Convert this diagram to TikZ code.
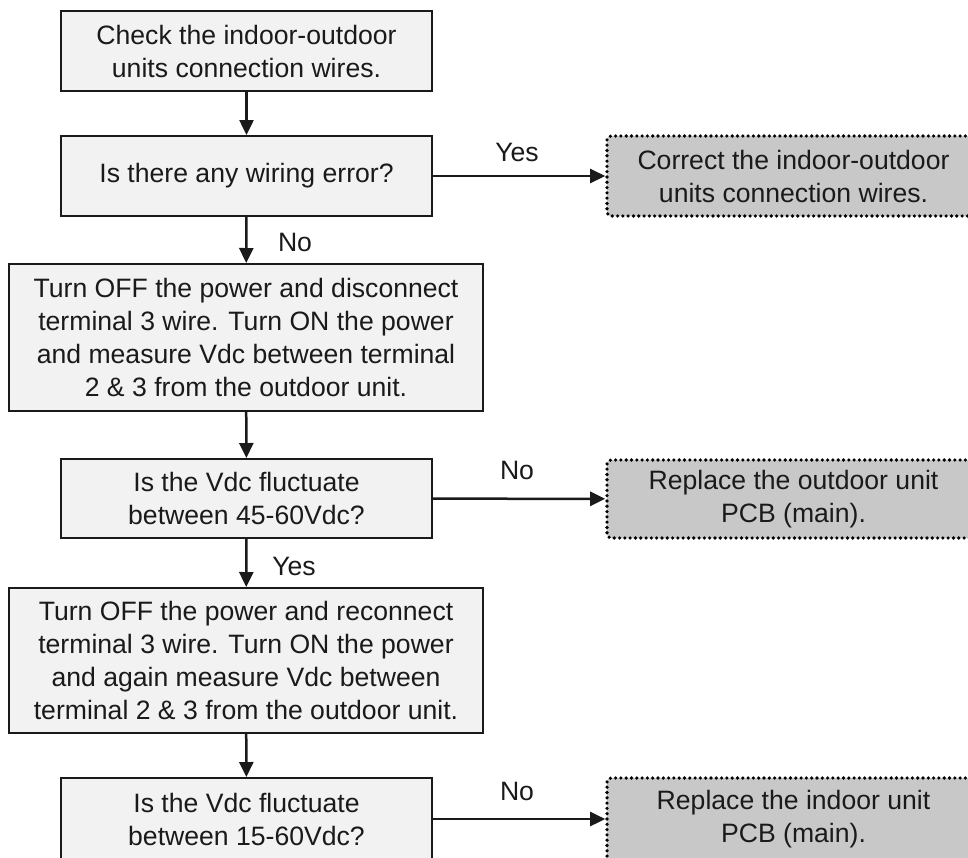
\documentclass[tikz,border=0pt]{standalone}
\usepackage{fontspec}
\setmainfont{Liberation Sans}
\usetikzlibrary{arrows.meta}
\definecolor{boxfill}{HTML}{F2F2F2}
\definecolor{grayfill}{HTML}{C8C8C8}
\definecolor{inkc}{HTML}{1A1A1A}
\begin{document}
\begin{tikzpicture}[x=1pt,y=-1pt,
  txt/.style={font=\fontsize{26.6pt}{33pt}\selectfont, align=center, inner sep=0pt, text=inkc},
  stepbox/.style={txt, draw=inkc, line width=2pt, fill=boxfill},
  endbox/.style={txt, draw=black, line width=3.6pt, fill=grayfill, rounded corners=4pt,
    dash pattern=on 0pt off 5.3pt, line cap=round},
  conn/.style={draw=inkc, line width=2.5pt, -{Triangle[width=14pt,length=15pt]}},
  lbl/.style={txt}]
\clip (0,0) rectangle (968,857);
\useasboundingbox (0,0) rectangle (968,857);
\fill[white] (0,0) rectangle (968,857);

\node[stepbox, minimum width=371pt, minimum height=80pt] (b1) at (246.5,51)
  {Check the indoor-outdoor\\units connection wires.};
\node[stepbox, minimum width=371pt, minimum height=80pt] (b2) at (246.5,176)
  {Is there any wiring error?};
\node[stepbox, minimum width=474pt, minimum height=147pt] (b3) at (246,337.5)
  {Turn OFF the power and disconnect\\terminal 3 wire. Turn ON the power\\and measure Vdc between terminal\\2 \& 3 from the outdoor unit.};
\node[stepbox, minimum width=371pt, minimum height=79pt] (b4) at (246.5,498.5)
  {Is the Vdc fluctuate\\between 45-60Vdc?};
\node[stepbox, minimum width=474pt, minimum height=145pt] (b5) at (246,660.5)
  {Turn OFF the power and reconnect\\terminal 3 wire. Turn ON the power\\and again measure Vdc between\\terminal 2 \& 3 from the outdoor unit.};
\node[stepbox, minimum width=371pt, minimum height=82pt] (b6) at (246.5,819)
  {Is the Vdc fluctuate\\between 15-60Vdc?};

\node[endbox, minimum width=373pt, minimum height=80pt] (g1) at (793.5,176)
  {Correct the indoor-outdoor\\units connection wires.};
\node[endbox, minimum width=373pt, minimum height=78pt] (g2) at (793.5,499)
  {Replace the outdoor unit\\PCB (main).};
\node[endbox, minimum width=373pt, minimum height=82pt] (g3) at (793.5,819)
  {Replace the indoor unit\\PCB (main).};

\path[conn] (b1) -- (b2);
\path[conn] (b2) -- (b3);
\path[conn] (b3) -- (b4);
\path[conn] (b4) -- (b5);
\path[conn] (b5) -- (b6);
\path[conn] (b2) -- (g1);
\path[conn] (b4) -- (g2);
\path[conn] (b6) -- (g3);

\node[lbl] (l1) at (517,152) {Yes};
\node[lbl] (l2) at (295,242) {No};
\node[lbl] (l3) at (517,470) {No};
\node[lbl] (l4) at (294,566) {Yes};
\node[lbl] (l5) at (517,791) {No};
\end{tikzpicture}
\end{document}
